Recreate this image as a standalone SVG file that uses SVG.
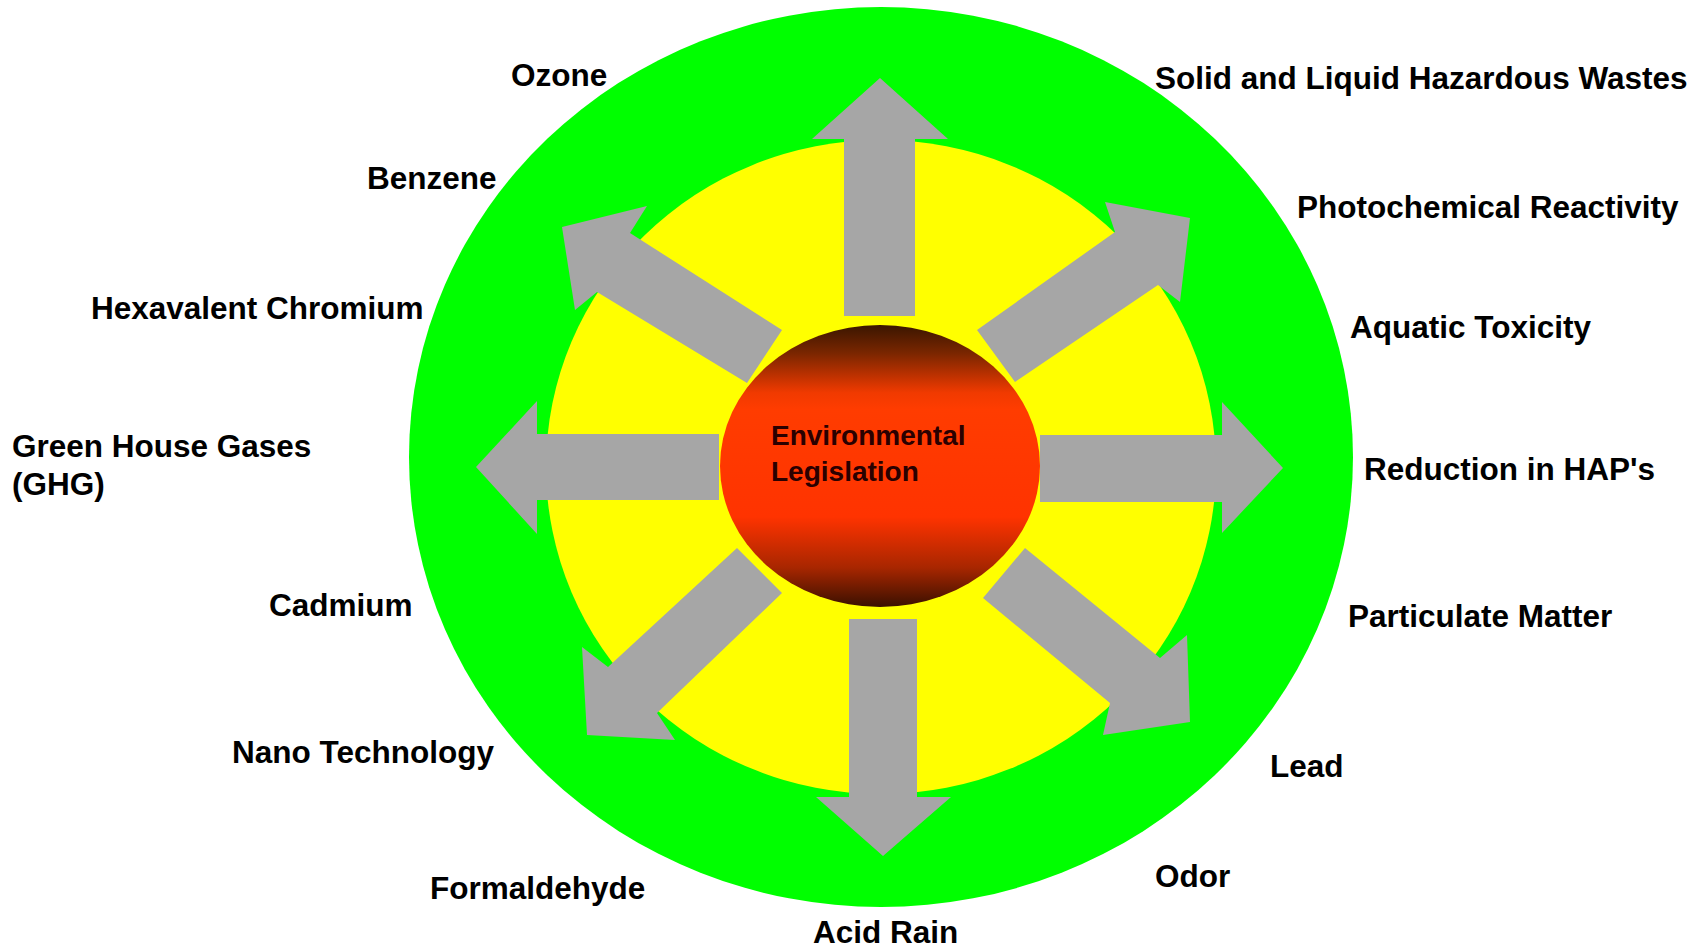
<svg xmlns="http://www.w3.org/2000/svg" width="1695" height="948" viewBox="0 0 1695 948">
<style>
.lbl{font-family:"Liberation Sans",Arial,sans-serif;font-weight:bold;font-size:31.5px;fill:#000}
.ctr{font-family:"Liberation Sans",Arial,sans-serif;font-weight:bold;font-size:28px;fill:#2a0000}
.arr{fill:#a6a6a6}
</style>
<defs>
<linearGradient id="core" x1="0" y1="0" x2="0" y2="1">
<stop offset="0" stop-color="#3a1600"/>
<stop offset="0.1" stop-color="#7a2600"/>
<stop offset="0.24" stop-color="#f03a00"/>
<stop offset="0.3" stop-color="#ff3c00"/>
<stop offset="0.68" stop-color="#ff3300"/>
<stop offset="0.86" stop-color="#a82600"/>
<stop offset="1" stop-color="#3a1000"/>
</linearGradient>
</defs>
<rect width="1695" height="948" fill="#fff"/>
<g id="outer"><ellipse cx="881" cy="457" rx="472" ry="450" fill="#00ff00"/></g>
<g id="inner"><ellipse cx="881" cy="467" rx="335" ry="327" fill="#ffff00"/></g>
<g id="connectors">
<polygon class="arr" points="844,316 844,139 812,139 880,78 948,139 915,139 915,316"/>
<polygon class="arr" points="849,619 917,619 917,797 951,797 883,856 816,797 849,797"/>
<polygon class="arr" points="719,434 537,434 537,401 476,467 537,534 537,500 719,500"/>
<polygon class="arr" points="1040,435 1222,435 1222,402 1283,468 1222,533 1222,502 1040,502"/>
<polygon class="arr" points="782,330 630,233 647,206 562,227 575,310 597,292 747,383"/>
<polygon class="arr" points="977,330 1115,232 1105,202 1190,218 1180,302 1158,285 1015,382"/>
<polygon class="arr" points="737,548 608,667 582,647 587,735 675,740 657,713 782,593"/>
<polygon class="arr" points="1025,548 1160,658 1187,635 1190,722 1103,735 1110,703 983,598"/>
</g>
<g id="center">
<ellipse cx="880" cy="466" rx="160" ry="141" fill="url(#core)"/>
<text class="ctr" x="771" y="445">Environmental</text>
<text class="ctr" x="771" y="481">Legislation</text>
</g>
<g id="labels">
<text class="lbl" x="511" y="86">Ozone</text>
<text class="lbl" x="1155" y="89">Solid and Liquid Hazardous Wastes</text>
<text class="lbl" x="367" y="189">Benzene</text>
<text class="lbl" x="1297" y="218">Photochemical Reactivity</text>
<text class="lbl" x="91" y="319">Hexavalent Chromium</text>
<text class="lbl" x="1350" y="338">Aquatic Toxicity</text>
<text class="lbl" x="12" y="457">Green House Gases</text>
<text class="lbl" x="12" y="495">(GHG)</text>
<text class="lbl" x="1364" y="480">Reduction in HAP's</text>
<text class="lbl" x="269" y="616">Cadmium</text>
<text class="lbl" x="1348" y="627">Particulate Matter</text>
<text class="lbl" x="232" y="763">Nano Technology</text>
<text class="lbl" x="1270" y="777">Lead</text>
<text class="lbl" x="430" y="899">Formaldehyde</text>
<text class="lbl" x="1155" y="887">Odor</text>
<text class="lbl" x="813" y="943">Acid Rain</text>
</g>
</svg>
